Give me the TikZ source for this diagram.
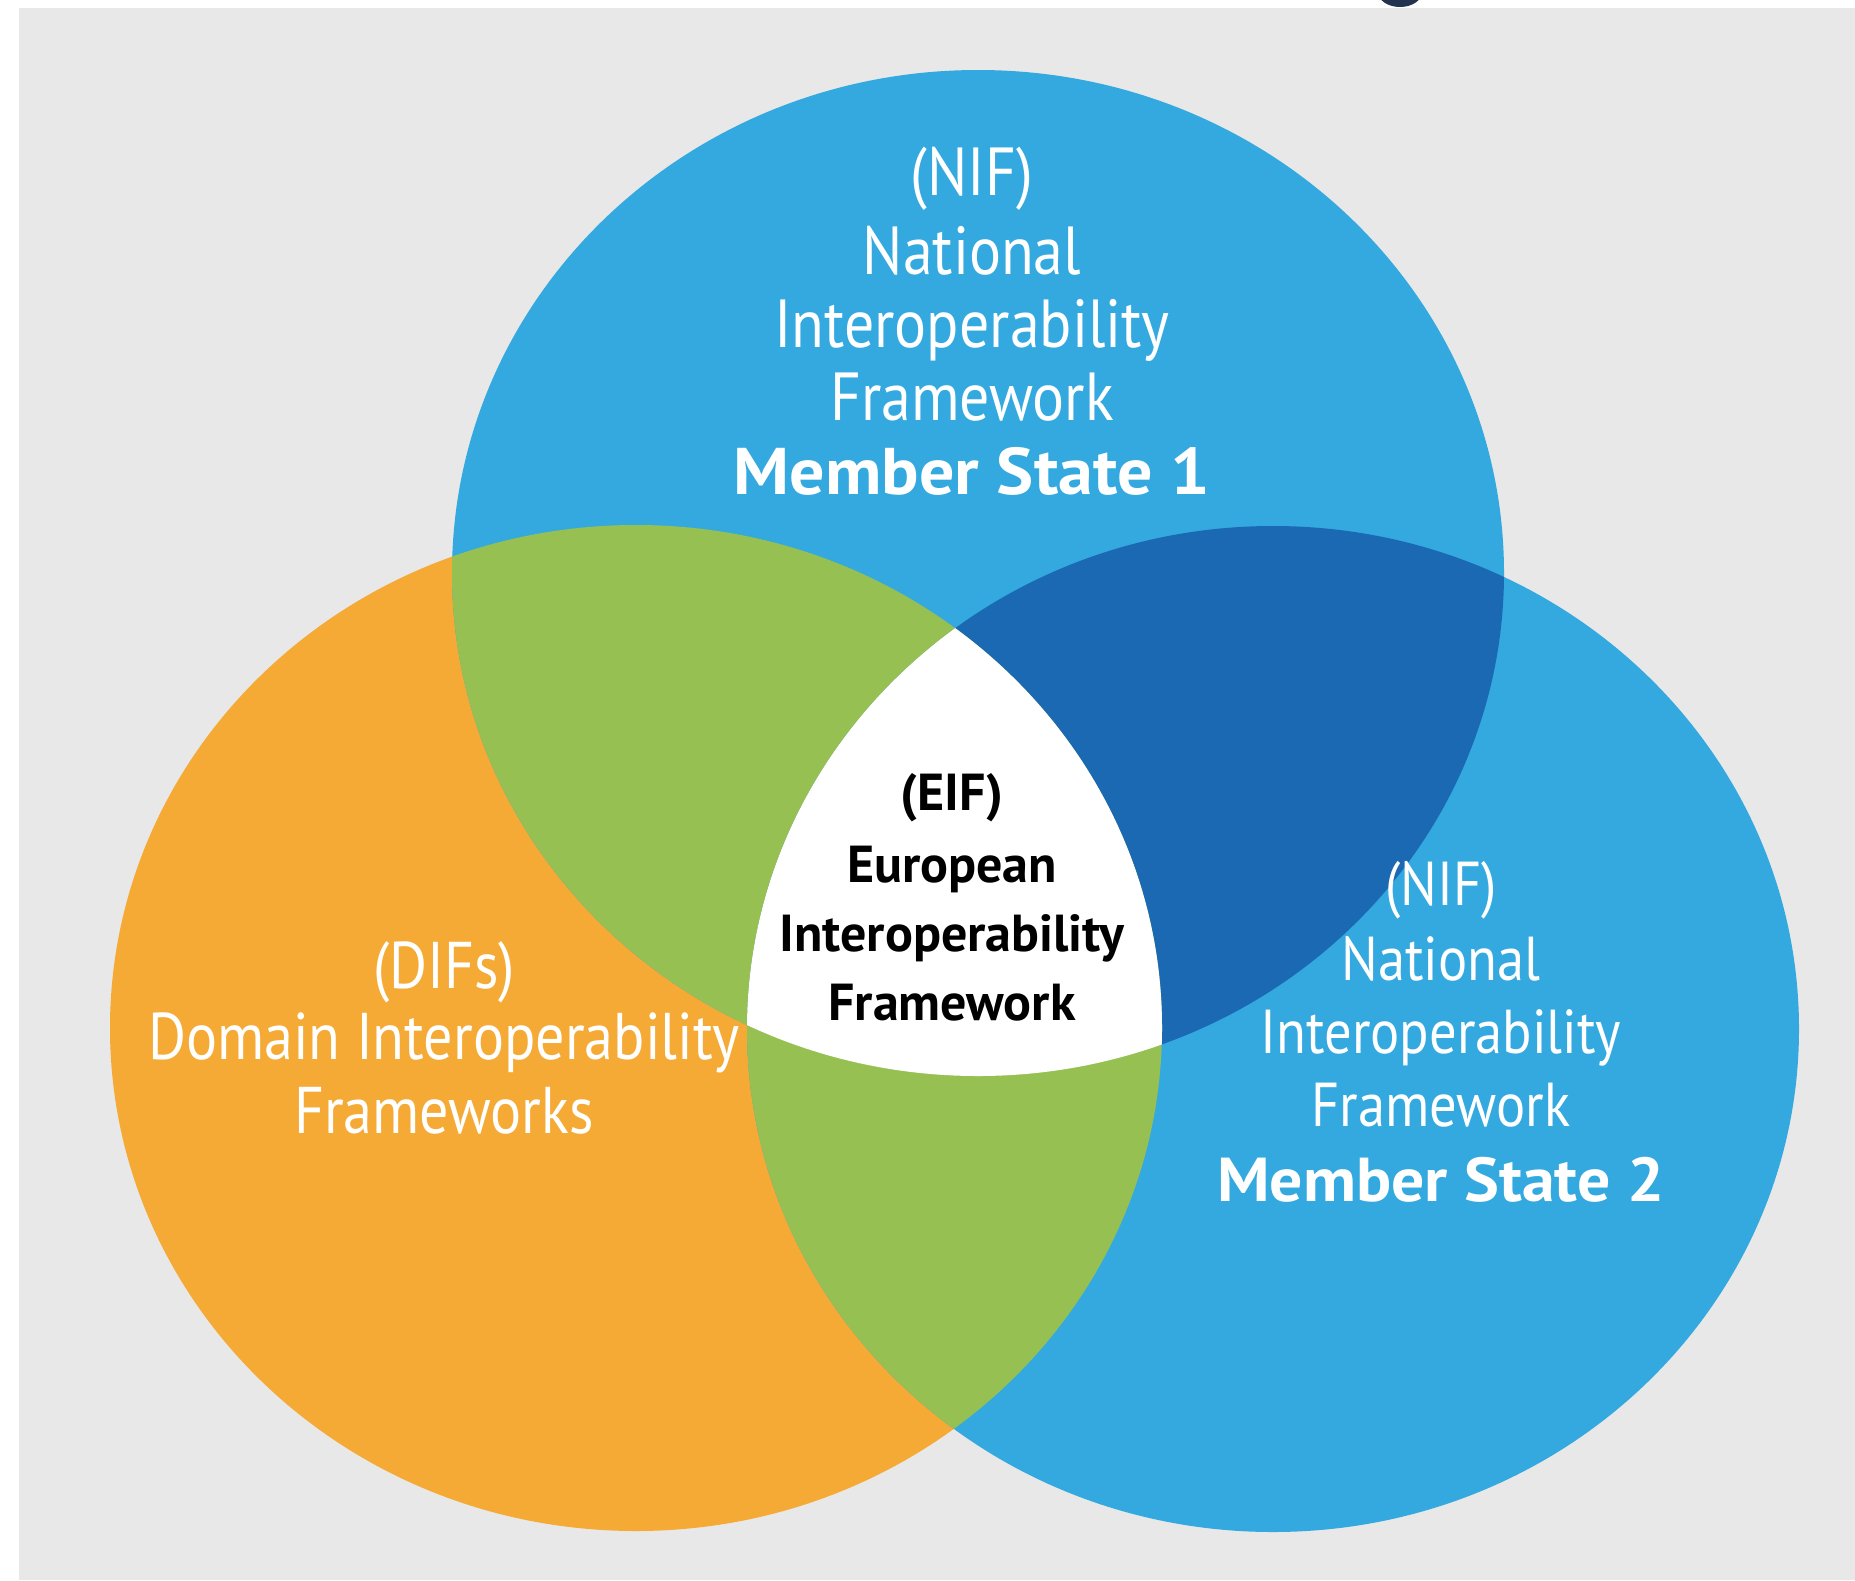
\documentclass[tikz,border=0pt]{standalone}
\usepackage{fontspec}
\setmainfont{PT Sans}[FakeStretch=0.88, BoldFeatures={FakeStretch=1.0}]
\newfontfamily\memberfont{PT Sans}[FakeStretch=1.06]
\definecolor{bgray}{HTML}{E8E8E8}
\definecolor{cblue}{HTML}{33A9E0}
\definecolor{dblue}{HTML}{1B69B3}
\definecolor{cgreen}{HTML}{96C152}
\definecolor{corange}{HTML}{F5AA35}
\definecolor{gdark}{HTML}{22324F}
\newcommand\fsTop{\fontsize{68}{73}\selectfont}
\newcommand\fsTopB{\fontsize{66}{73}\selectfont}
\newcommand\fsRight{\fontsize{62}{73}\selectfont}
\newcommand\fsLeft{\fontsize{66}{73}\selectfont}
\newcommand\fsMid{\fontsize{52}{68}\selectfont}
\begin{document}
\begin{tikzpicture}[x=1pt,y=-1pt,
  lbl/.style={anchor=base, inner sep=0pt, text=white},
  midlbl/.style={anchor=base, inner sep=0pt, text=black, font=\fsMid\bfseries}]
\useasboundingbox (0,0) rectangle (1855,1580);
\fill[white] (0,0) rectangle (1855,1580);
\fill[bgray] (19,8) rectangle (1855,1580);
\begin{scope}
  \clip (0,0) rectangle (1855,8);
  \fill[gdark] (1400,-8) ellipse [x radius=22pt, y radius=15pt];
\end{scope}
% circles
\tikzset{ell/.style={x radius=526pt, y radius=503pt}}
\fill[corange] (636,1028) ellipse [ell];
\fill[cblue] (978,573) ellipse [ell];
\fill[cblue] (1273,1029) ellipse [ell];
\begin{scope}
  \clip (978,573) ellipse [ell];
  \fill[cgreen] (636,1028) ellipse [ell];
  \fill[dblue] (1273,1029) ellipse [ell];
\end{scope}
\begin{scope}
  \clip (636,1028) ellipse [ell];
  \fill[cgreen] (1273,1029) ellipse [ell];
  \clip (978,573) ellipse [ell];
  \fill[white] (1273,1029) ellipse [ell];
\end{scope}
% top circle text
\node[lbl, font=\fsTop] (t1) at (972,195) {(NIF)};
\node[lbl, font=\fsTop] (t2) at (972,274) {National};
\node[lbl, font=\fsTop] (t3) at (972,347) {Interoperability};
\node[lbl, font=\fsTop] (t4) at (972,420) {Framework};
\node[lbl, font=\fsTopB\memberfont\bfseries] (t5) at (972,494) {Member State 1};
% right circle text
\node[lbl, font=\fsRight] (r1) at (1441,905) {(NIF)};
\node[lbl, font=\fsRight] (r2) at (1441,980) {National};
\node[lbl, font=\fsRight] (r3) at (1441,1053) {Interoperability};
\node[lbl, font=\fsRight] (r4) at (1441,1126) {Framework};
\node[lbl, font=\fsRight\memberfont\bfseries] (r5) at (1441,1201) {Member State 2};
% left circle text
\node[lbl, font=\fsLeft] (l1) at (444,988) {(DIFs)};
\node[lbl, font=\fsLeft] (l2) at (444,1059) {Domain Interoperability};
\node[lbl, font=\fsLeft] (l3) at (444,1133) {Frameworks};
% centre text
\node[midlbl] (m1) at (952,810) {(EIF)};
\node[midlbl] (m2) at (952,882) {European};
\node[midlbl] (m3) at (952,951) {Interoperability};
\node[midlbl] (m4) at (952,1020) {Framework};
\end{tikzpicture}
\end{document}
